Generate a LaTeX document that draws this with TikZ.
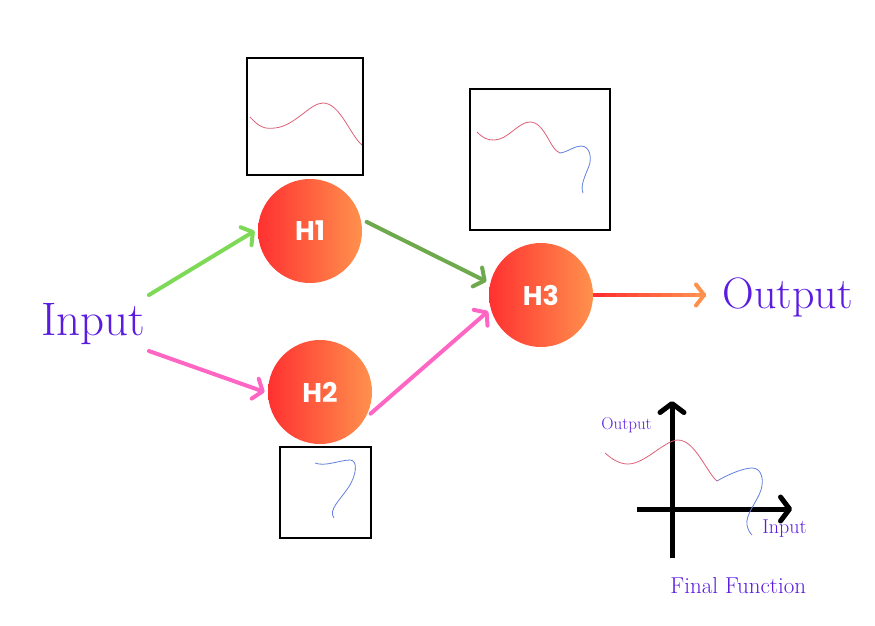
\documentclass[tikz,border=0pt]{standalone}
\usepackage{fontspec}
\newfontfamily\hfont{Poppins}
\usetikzlibrary{arrows.meta, calc}

\definecolor{inpurple}{RGB}{90,28,224}
\definecolor{hred}{HTML}{FF3131}
\definecolor{horange}{HTML}{FF914D}
\definecolor{lgreen}{HTML}{7ED957}
\definecolor{dgreen}{HTML}{6FA94E}
\definecolor{hpink}{HTML}{FF66C4}
\definecolor{cred}{RGB}{222,96,118}
\definecolor{cblue}{RGB}{98,128,222}

\tikzset{
    hidden/.style={circle, minimum size=104pt, inner sep=0pt, left color=hred, right color=horange,
        text=white, font=\hfont\bfseries\fontsize{27}{32}\selectfont},
    bigtext/.style={text=inpurple, inner sep=0pt, anchor=base west},
    smalltext/.style={text=inpurple, inner sep=0pt, anchor=base west},
    flow/.style={line width=4pt, line cap=round, -{Straight Barb[round, length=8pt, width=21pt]}},
    plotbox/.style={line width=2.6pt},
    curvered/.style={cred, line width=0.8pt},
    curveblue/.style={cblue, line width=0.8pt},
}

\begin{document}
\begin{tikzpicture}[x=1pt, y=-1pt, thick]

    \useasboundingbox (0,0) rectangle (875,625);

    % --- 1. Input / Output text ---
    \node [bigtext, font=\fontsize{47}{56}\selectfont] (inp) at (41,335) {Input};
    \node [bigtext, font=\fontsize{44}{53}\selectfont] (out) at (722,308) {Output};

    % --- 2. Hidden units ---
    \node [hidden] (h1) at (310,231) {H1};
    \node [hidden] (h2) at (320,392) {H2};
    \node [hidden] (h3) at (541,295) {H3};

    % --- 3. Connections ---
    \draw [flow, lgreen] ([shift={(3pt,40pt)}]inp.base east) -- ([xshift=-3pt]h1.west);
    \draw [flow, hpink] ([shift={(3pt,-16pt)}]inp.base east) -- ([xshift=-3pt]h2.west);
    \draw [flow, dgreen] ([shift={(5pt,0pt)}]h1.10) -- ([shift={(-4pt,0pt)}]h3.165);
    \draw [flow, hpink] ([shift={(2pt,-2pt)}]h2.-22) -- ([shift={(-3pt,0pt)}]h3.198);

    % red -> orange arrow out of H3
    \coordinate (o1) at (h3.east);
    \coordinate (o2) at ($(o1 -| out.west)+(-16,0)$);
    \foreach \i in {0,...,9} {
        \pgfmathsetmacro{\p}{100-\i*11}
        \draw [line width=4pt, color=hred!\p!horange]
            ($(o1)!\i/10!(o2)$) -- ($(o1)!\i/10+0.1!(o2)$);
    }
    \draw [flow, horange] ($(o1)!0.95!(o2)$) -- (o2);

    % --- 4. Boxes with what each unit learns ---
    \draw [plotbox] (247,58) rectangle (363,175);
    \draw [curvered] (250,117) .. controls (260,128) and (265,129) .. (275,128)
        .. controls (295,126) and (310,103) .. (323,103)
        .. controls (340,103) and (350,135) .. (362,145);

    \draw [plotbox] (470,89) rectangle (610,230);
    \draw [curvered] (477,132) .. controls (483,138) and (487,140) .. (494,140)
        .. controls (508,140) and (518,122) .. (530,122)
        .. controls (545,122) and (550,150) .. (560,153);
    \draw [curveblue] (560,153) .. controls (568,152) and (574,146) .. (581,146)
        .. controls (590,146) and (592,158) .. (589,166)
        .. controls (585,176) and (580,186) .. (583,193);

    \draw [plotbox] (280,447) rectangle (371,538);
    \draw [curveblue] (315,463) .. controls (325,467) and (340,460) .. (350,460)
        .. controls (358,460) and (357,475) .. (348,488)
        .. controls (340,500) and (328,510) .. (334,518);

    % --- 5. Final function ---
    \draw [line width=5pt, -{Straight Barb[round, length=9pt, width=24pt]}] (672,558) -- (672,401);
    \draw [line width=5pt, -{Straight Barb[round, length=9pt, width=24pt]}] (637,509) -- (792,509);

    \draw [curvered] (605,453) .. controls (613,460) and (620,464) .. (628,464)
        .. controls (645,464) and (665,440) .. (678,440)
        .. controls (695,440) and (707,473) .. (717,481);
    \draw [curveblue] (717,481) .. controls (727,475) and (743,468) .. (752,468)
        .. controls (762,468) and (764,480) .. (761,490)
        .. controls (757,502) and (745,515) .. (747,525)
        .. controls (748,530) and (750,533) .. (752,535);

    \node [smalltext, font=\fontsize{17}{20}\selectfont] (yl) at (601,429) {Output};
    \node [smalltext, font=\fontsize{20}{24}\selectfont] (xl) at (762,533) {Input};
    \node [smalltext, font=\fontsize{23}{27}\selectfont] (ff) at (670,593) {Final Function};

\end{tikzpicture}
\end{document}
